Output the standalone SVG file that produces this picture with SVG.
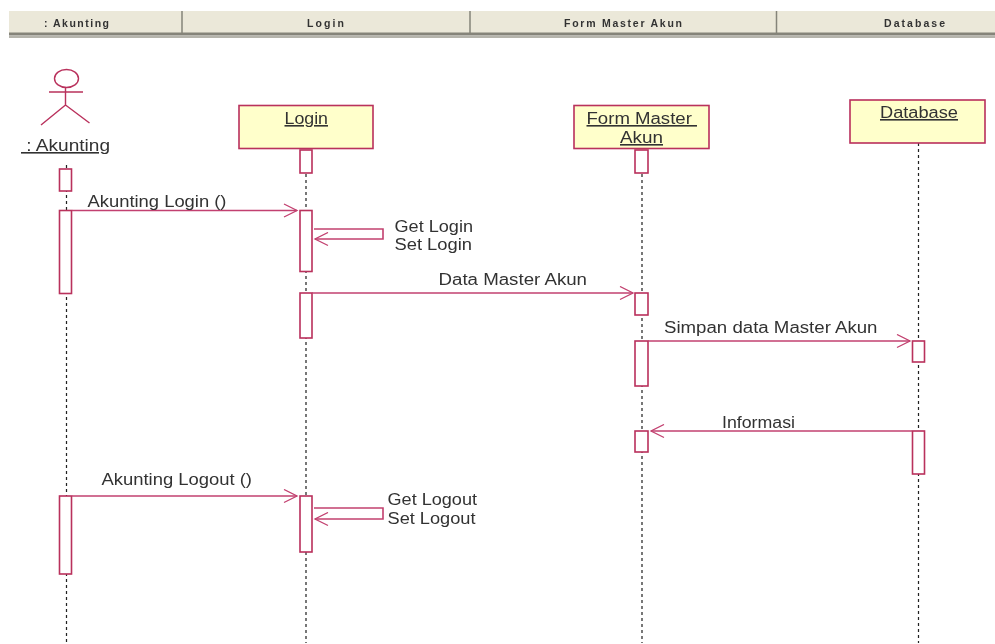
<svg xmlns="http://www.w3.org/2000/svg" width="995" height="644" viewBox="0 0 995 644">
<defs>
<marker id="open" markerUnits="userSpaceOnUse" markerWidth="16" markerHeight="15" refX="14" refY="7.500" orient="auto"><path d="M1 1 L14 7.500 L1 14" fill="none" stroke="#c2406f" stroke-width="1.300"/></marker>
<filter id="soft" x="-2%" y="-2%" width="104%" height="104%"><feGaussianBlur stdDeviation="0.300"/></filter>
</defs>
<style>
text{font-family:"Liberation Sans",Arial,sans-serif;fill:#333}
.h{font-size:10.500px;font-weight:bold;fill:#333}
.t{font-size:16px}
.o{font-size:16px;text-decoration:underline}
.box{fill:#ffffcb;stroke:#b9305c;stroke-width:1.600}
.act{fill:#fff;stroke:#b9305c;stroke-width:1.600}
.life{stroke:#222;stroke-width:1.200;stroke-dasharray:3 3;fill:none}
.msg{stroke:#c2406f;stroke-width:1.600;fill:none}
</style>
<rect width="995" height="644" fill="#fff"/>
<g filter="url(#soft)">
<g id="header">
<rect x="9" y="11" width="986" height="22" fill="#ebe8d9"/>
<rect x="9" y="32.500" width="986" height="3" fill="#85847a"/>
<rect x="9" y="35.500" width="986" height="2.500" fill="#b5b4ac"/>
<path d="M182 11V35M470 11V35M776.500 11V35" stroke="#85847a" stroke-width="1.500"/>
<text class="h" x="44" y="27" textLength="65">: Akunting</text>
<text class="h" x="307" y="27" textLength="37">Login</text>
<text class="h" x="564" y="27" textLength="118">Form Master Akun</text>
<text class="h" x="884" y="27" textLength="61">Database</text>
</g>
<g id="lifelines">
<path class="life" d="M66.500 165V643M306 150V643M642 150V643M918.500 143V643"/>
</g>
<g id="actor-akunting">
<ellipse cx="66.500" cy="78.500" rx="12" ry="9" fill="#fff" stroke="#b9305c" stroke-width="1.400"/>
<path d="M65.500 88V105M49 92H83M65.500 105L41 125M65.500 105L89.500 123" fill="none" stroke="#b9305c" stroke-width="1.400"/>
<text class="o" x="21" y="151" textLength="89" lengthAdjust="spacingAndGlyphs" xml:space="preserve"> : Akunting</text>
</g>
<g id="obj-login"><rect class="box" x="239" y="105.500" width="134" height="43"/><text class="o" x="284.500" y="124" textLength="43.500" lengthAdjust="spacingAndGlyphs">Login</text></g>
<g id="obj-form"><rect class="box" x="574" y="105.500" width="135" height="43"/><text class="o" x="586.500" y="124" textLength="110.500" lengthAdjust="spacingAndGlyphs" xml:space="preserve">Form Master </text><text class="o" x="620" y="143" textLength="43" lengthAdjust="spacingAndGlyphs">Akun</text></g>
<g id="obj-database"><rect class="box" x="850" y="100" width="135" height="43"/><text class="o" x="880" y="118" textLength="78" lengthAdjust="spacingAndGlyphs">Database</text></g>
<g id="activations">
<rect class="act" x="300" y="150" width="12" height="23"/>
<rect class="act" x="635" y="150" width="13" height="23"/>
<rect class="act" x="59.500" y="169" width="12" height="22"/>
<rect class="act" x="59.500" y="210.500" width="12" height="83"/>
<rect class="act" x="300" y="210.500" width="12" height="61"/>
<rect class="act" x="300" y="293" width="12" height="45"/>
<rect class="act" x="635" y="293" width="13" height="22"/>
<rect class="act" x="635" y="341" width="13" height="45"/>
<rect class="act" x="912.500" y="341" width="12" height="21"/>
<rect class="act" x="635" y="431" width="13" height="21"/>
<rect class="act" x="912.500" y="431" width="12" height="43"/>
<rect class="act" x="59.500" y="496" width="12" height="78"/>
<rect class="act" x="300" y="496" width="12" height="56"/>
</g>
<g id="connectors">
<path class="msg" marker-end="url(#open)" d="M72 210.500H297"/>
<path class="msg" marker-end="url(#open)" d="M314 229H383V239H315"/>
<path class="msg" marker-end="url(#open)" d="M312 293H633"/>
<path class="msg" marker-end="url(#open)" d="M648 341H910"/>
<path class="msg" marker-end="url(#open)" d="M912 431H651"/>
<path class="msg" marker-end="url(#open)" d="M72 496H297"/>
<path class="msg" marker-end="url(#open)" d="M314 508H383V519H315"/>
</g>
<g id="labels">
<text class="t" x="87.500" y="207" textLength="139" lengthAdjust="spacingAndGlyphs">Akunting Login ()</text>
<text class="t" x="394.500" y="231.500" textLength="78.500" lengthAdjust="spacingAndGlyphs">Get Login</text>
<text class="t" x="394.500" y="250" textLength="77.500" lengthAdjust="spacingAndGlyphs">Set Login</text>
<text class="t" x="438.500" y="285" textLength="148.500" lengthAdjust="spacingAndGlyphs">Data Master Akun</text>
<text class="t" x="664" y="333" textLength="213.500" lengthAdjust="spacingAndGlyphs">Simpan data Master Akun</text>
<text class="t" x="722" y="428" textLength="73" lengthAdjust="spacingAndGlyphs">Informasi</text>
<text class="t" x="101.500" y="485" textLength="150.500" lengthAdjust="spacingAndGlyphs">Akunting Logout ()</text>
<text class="t" x="387.500" y="505" textLength="89.500" lengthAdjust="spacingAndGlyphs">Get Logout</text>
<text class="t" x="387.500" y="524" textLength="88" lengthAdjust="spacingAndGlyphs">Set Logout</text>
</g>
</g>
</svg>
